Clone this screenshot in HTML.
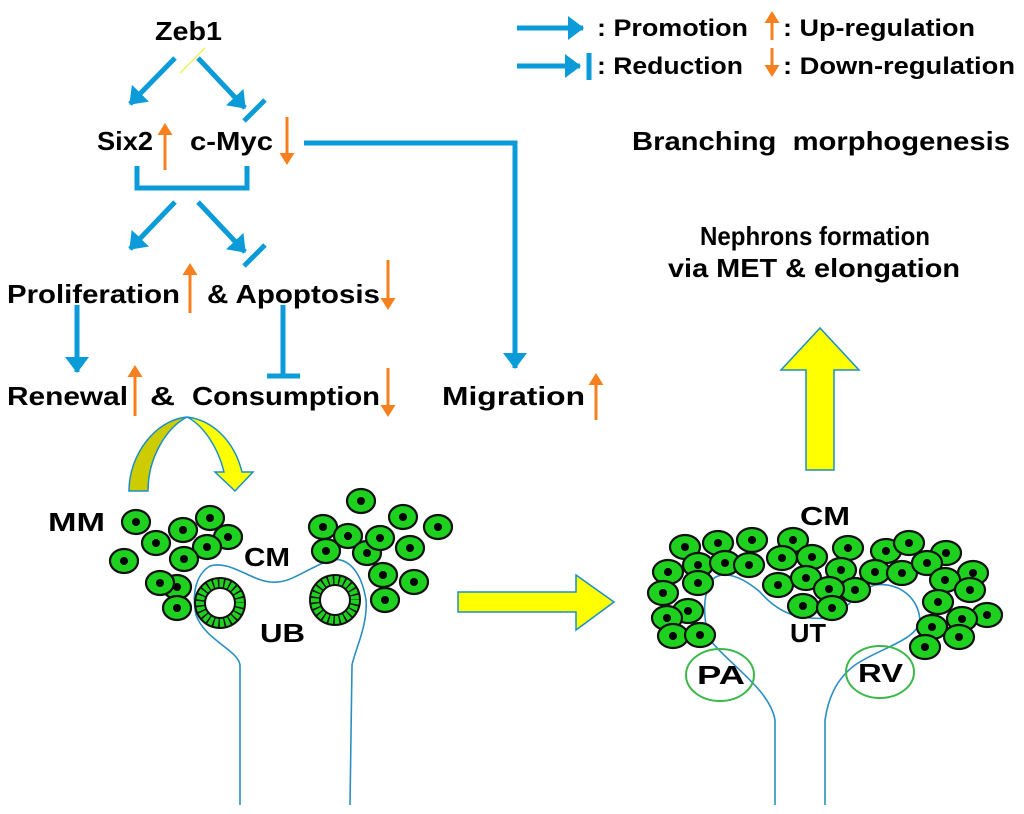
<!DOCTYPE html>
<html><head><meta charset="utf-8"><style>
html,body{margin:0;padding:0;background:#fff}
svg{display:block}
text{font-family:"Liberation Sans",sans-serif;font-weight:bold;fill:#000}
</style></head><body>
<svg width="1024" height="814" viewBox="0 0 1024 814" xmlns="http://www.w3.org/2000/svg">
<defs>
<marker id="ab" markerWidth="6" markerHeight="6" refX="3" refY="3" orient="auto" markerUnits="strokeWidth"><path d="M0,0.6 L3.2,3 L0,5.4 Z" fill="#0a9bd8"/></marker>
<marker id="ao" markerWidth="6" markerHeight="6" refX="3" refY="3" orient="auto" markerUnits="strokeWidth"><path d="M0,0.5 L4,3 L0,5.5 Z" fill="#f7801e"/></marker>
<g id="c"><ellipse cx="0" cy="0" rx="14" ry="12" fill="#1fd11f" stroke="#111" stroke-width="2.2"/><circle cx="0" cy="0" r="4" fill="#000"/></g>
<g id="c2"><ellipse cx="0" cy="0" rx="15" ry="12" fill="#1fd11f" stroke="#111" stroke-width="2.2"/><circle cx="0" cy="0" r="4" fill="#000"/></g>
</defs>
<g stroke="#0a9bd8" stroke-width="5" fill="none">
<line x1="175" y1="58" x2="130" y2="104" marker-end="url(#ab)"/>
<line x1="198" y1="58" x2="245" y2="108" marker-end="url(#ab)"/>
<line x1="244" y1="121" x2="265" y2="100"/>
<polyline points="137,166 137,188 247,188 247,166"/>
<line x1="175" y1="202" x2="130" y2="249" marker-end="url(#ab)"/>
<line x1="198" y1="202" x2="245" y2="252" marker-end="url(#ab)"/>
<line x1="244" y1="266" x2="265" y2="245"/>
<line x1="77" y1="305" x2="77" y2="372" marker-end="url(#ab)"/>
<line x1="283" y1="305" x2="283" y2="376"/>
<line x1="267" y1="376" x2="300" y2="376"/>
<polyline points="304,143 515,143 515,368" marker-end="url(#ab)"/>
<line x1="517" y1="28" x2="583" y2="28" marker-end="url(#ab)"/>
<line x1="517" y1="66" x2="580" y2="66" marker-end="url(#ab)"/>
<line x1="589" y1="53" x2="589" y2="80"/>
</g>
<line x1="180" y1="73" x2="205" y2="48" stroke="#f0f060" stroke-width="1.5"/>
<g stroke="#f7801e" stroke-width="3" fill="none">
<line x1="165" y1="170" x2="165" y2="126" marker-end="url(#ao)"/>
<line x1="287" y1="117" x2="287" y2="162" marker-end="url(#ao)"/>
<line x1="190" y1="313" x2="190" y2="266" marker-end="url(#ao)"/>
<line x1="388" y1="260" x2="388" y2="307" marker-end="url(#ao)"/>
<line x1="135" y1="416" x2="135" y2="368" marker-end="url(#ao)"/>
<line x1="388" y1="368" x2="388" y2="414" marker-end="url(#ao)"/>
<line x1="596" y1="420" x2="596" y2="376" marker-end="url(#ao)"/>
<line x1="772" y1="40" x2="772" y2="14" marker-end="url(#ao)"/>
<line x1="772" y1="48" x2="772" y2="74" marker-end="url(#ao)"/>
</g>
<g font-size="26">
<text x="155" y="40" textLength="67" lengthAdjust="spacingAndGlyphs">Zeb1</text>
<text x="97" y="150" textLength="56" lengthAdjust="spacingAndGlyphs">Six2</text>
<text x="190" y="150" textLength="83" lengthAdjust="spacingAndGlyphs">c-Myc</text>
<text x="7" y="303" textLength="173" lengthAdjust="spacingAndGlyphs">Proliferation</text>
<text x="207" y="303" textLength="173" lengthAdjust="spacingAndGlyphs">&amp; Apoptosis</text>
<text x="7" y="405" textLength="121" lengthAdjust="spacingAndGlyphs">Renewal</text>
<text x="150" y="405" textLength="25" lengthAdjust="spacingAndGlyphs">&amp;</text>
<text x="192" y="405" textLength="188" lengthAdjust="spacingAndGlyphs">Consumption</text>
<text x="442" y="405" textLength="143" lengthAdjust="spacingAndGlyphs">Migration</text>
<text x="632" y="150" textLength="378" lengthAdjust="spacingAndGlyphs">Branching&#160; morphogenesis</text>
<text x="700" y="245" textLength="230" lengthAdjust="spacingAndGlyphs">Nephrons formation</text>
<text x="668" y="277" textLength="292" lengthAdjust="spacingAndGlyphs">via MET &amp; elongation</text>
<text x="48" y="531" textLength="57" lengthAdjust="spacingAndGlyphs">MM</text>
<text x="244" y="566" textLength="46" lengthAdjust="spacingAndGlyphs">CM</text>
<text x="260" y="642" textLength="45" lengthAdjust="spacingAndGlyphs">UB</text>
<text x="800" y="525" textLength="50" lengthAdjust="spacingAndGlyphs">CM</text>
<text x="790" y="642" textLength="36" lengthAdjust="spacingAndGlyphs">UT</text>
<text x="697" y="684" textLength="48" lengthAdjust="spacingAndGlyphs">PA</text>
<text x="858" y="682" textLength="45" lengthAdjust="spacingAndGlyphs">RV</text>
</g>
<g font-size="24">
<text x="597" y="36" textLength="151" lengthAdjust="spacingAndGlyphs">: Promotion</text>
<text x="597" y="74" textLength="146" lengthAdjust="spacingAndGlyphs">: Reduction</text>
<text x="783" y="36" textLength="192" lengthAdjust="spacingAndGlyphs">: Up-regulation</text>
<text x="783" y="74" textLength="232" lengthAdjust="spacingAndGlyphs">: Down-regulation</text>
</g>
<path d="M806,470 L806,370 L781,370 L820,328 L859,370 L834,370 L834,470 Z" fill="#ffff00" stroke="#1a8fc8" stroke-width="1.5"/>
<path d="M458,592 L576,592 L576,575 L614,602 L576,630 L576,612 L458,612 Z" fill="#ffff00" stroke="#1a8fc8" stroke-width="1.5"/>
<path d="M129,491 C129,455 155,420 187,417 C166,428 148,458 148,491 Z" fill="#cccc00" stroke="#1a8fc8" stroke-width="1.5"/>
<path d="M187,417 C212,420 234,440 242,472 L253,472 L235,491 L215,472 L224,472 C218,447 203,425 187,417 Z" fill="#ffff00" stroke="#1a8fc8" stroke-width="1.5"/>
<path d="M240,805 L240,665 C238,650 205,640 196,615 C192,595 195,575 210,566 C230,560 250,580 270,582 C290,584 300,572 330,560 C350,556 362,575 366,600 C368,625 355,650 352,665 L350,805" fill="none" stroke="#2a8fc0" stroke-width="1.6"/>
<path d="M775,805 L775,720 C770,690 730,665 710,640 C703,620 702,595 712,580 C722,570 740,575 760,592 C780,615 800,620 830,618 C845,612 858,590 875,585 C900,582 918,598 920,620 C918,640 880,648 855,665 C835,680 828,700 825,720 L825,805" fill="none" stroke="#2a8fc0" stroke-width="1.6"/>
<ellipse cx="720" cy="675" rx="34" ry="26" fill="none" stroke="#3cb84a" stroke-width="2"/>
<ellipse cx="880" cy="672" rx="34" ry="26" fill="none" stroke="#3cb84a" stroke-width="2"/>
<use href="#c" x="136" y="522"/><use href="#c" x="210" y="518"/><use href="#c" x="183" y="530"/><use href="#c" x="228" y="537"/><use href="#c" x="156" y="543"/><use href="#c" x="207" y="547"/><use href="#c" x="184" y="559"/><use href="#c" x="124" y="561"/><use href="#c" x="177" y="587"/><use href="#c" x="160" y="583"/><use href="#c" x="177" y="608"/>
<use href="#c" x="361" y="501"/><use href="#c" x="403" y="517"/><use href="#c" x="438" y="527"/><use href="#c" x="323" y="527"/><use href="#c" x="348" y="536"/><use href="#c" x="367" y="553"/><use href="#c" x="380" y="538"/><use href="#c" x="326" y="551"/><use href="#c" x="410" y="548"/><use href="#c" x="383" y="575"/><use href="#c" x="414" y="582"/><use href="#c" x="385" y="600"/>
<circle cx="220" cy="603" r="20" fill="none" stroke="#111" stroke-width="12"/>
<circle cx="220" cy="603" r="20" fill="none" stroke="#1fd11f" stroke-width="8" stroke-dasharray="4 1.5"/>
<circle cx="335" cy="600" r="20" fill="none" stroke="#111" stroke-width="12"/>
<circle cx="335" cy="600" r="20" fill="none" stroke="#1fd11f" stroke-width="8" stroke-dasharray="4 1.5"/>
<use href="#c2" x="685" y="547"/><use href="#c2" x="718" y="543"/><use href="#c2" x="752" y="540"/><use href="#c2" x="793" y="540"/><use href="#c2" x="848" y="548"/><use href="#c2" x="886" y="551"/><use href="#c2" x="909" y="543"/><use href="#c2" x="946" y="553"/>
<use href="#c2" x="668" y="572"/><use href="#c2" x="698" y="565"/><use href="#c2" x="725" y="563"/><use href="#c2" x="749" y="565"/><use href="#c2" x="782" y="558"/><use href="#c2" x="812" y="557"/><use href="#c2" x="841" y="570"/><use href="#c2" x="875" y="572"/><use href="#c2" x="902" y="573"/><use href="#c2" x="927" y="563"/><use href="#c2" x="973" y="573"/>
<use href="#c2" x="663" y="593"/><use href="#c2" x="698" y="583"/><use href="#c2" x="778" y="585"/><use href="#c2" x="806" y="578"/><use href="#c2" x="855" y="590"/><use href="#c2" x="829" y="589"/><use href="#c2" x="945" y="580"/><use href="#c2" x="970" y="590"/>
<use href="#c2" x="688" y="611"/><use href="#c2" x="667" y="618"/><use href="#c2" x="803" y="606"/><use href="#c2" x="832" y="608"/><use href="#c2" x="938" y="602"/><use href="#c2" x="987" y="615"/><use href="#c2" x="962" y="619"/><use href="#c2" x="932" y="627"/>
<use href="#c2" x="673" y="636"/><use href="#c2" x="700" y="635"/><use href="#c2" x="959" y="637"/><use href="#c2" x="925" y="647"/>
</svg>
</body></html>
